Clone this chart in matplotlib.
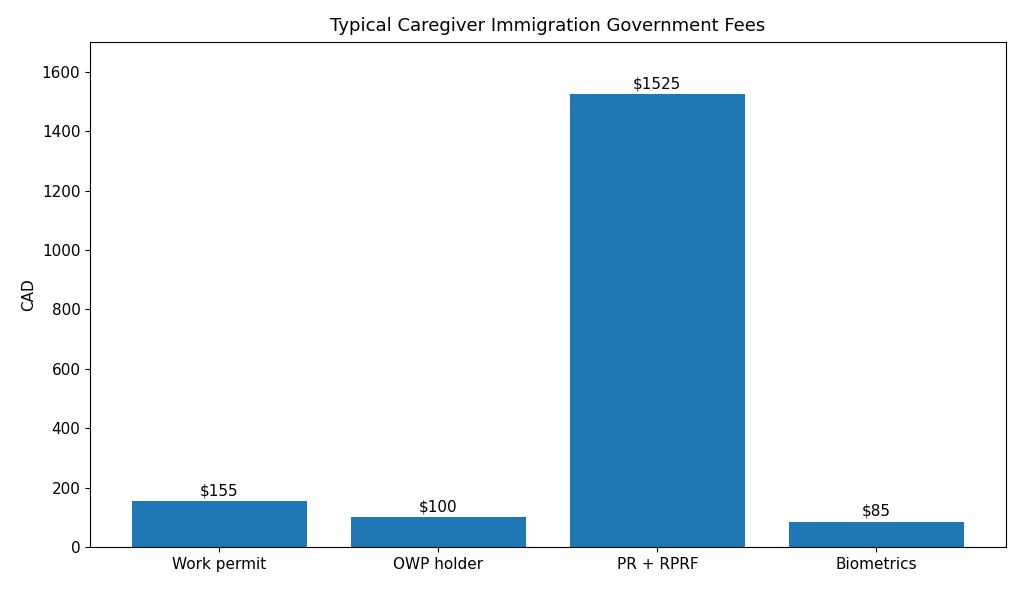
import matplotlib
matplotlib.use("Agg")
import matplotlib.pyplot as plt

categories = ["Work permit", "OWP holder", "PR + RPRF", "Biometrics"]
fees = [155, 100, 1525, 85]

fig = plt.figure(figsize=(10.24, 5.92), dpi=100)
ax = fig.add_axes([0.088, 0.076, 0.894, 0.853])
bars = ax.bar(categories, fees, color="#1f77b4")
ax.bar_label(bars, labels=[f"${v}" for v in fees], padding=2, fontsize=11)
ax.set_ylim(0, 1700)
ax.set_ylabel("CAD", fontsize=11)
ax.set_title("Typical Caregiver Immigration Government Fees", fontsize=13, pad=8)
ax.tick_params(labelsize=11)
fig.savefig("out.png", dpi=100)
